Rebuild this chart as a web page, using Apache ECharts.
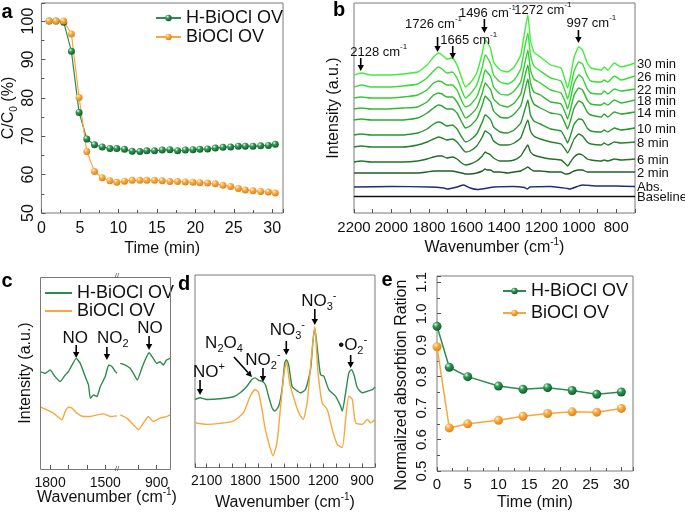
<!DOCTYPE html>
<html>
<head>
<meta charset="utf-8">
<script src="https://cdn.jsdelivr.net/npm/echarts@6.0.0/dist/echarts.min.js"></script>
<style>
html,body{margin:0;padding:0;background:#fff;}
#main{width:685px;height:512px;}
</style>
</head>
<body>
<div id="main"></div>
<script>
// ---- panel a : C/C0 vs time
var aTime = [1.0,1.9,2.9,3.9,4.9,5.9,6.9,7.9,8.9,9.8,10.8,11.8,12.8,13.7,14.7,15.7,16.7,17.7,18.7,19.7,20.6,21.6,22.6,23.6,24.6,25.6,26.5,27.5,28.5,29.5,30.4];
var aHBiOCl = [100,100,99.7,92.1,76.2,69.3,67.8,67.2,66.8,66.8,66.6,66.1,66.0,66.2,66.2,66.4,66.5,66.2,66.4,66.5,66.6,66.7,66.9,67.1,67.2,67.4,67.4,67.4,67.5,67.6,67.9];
var aBiOCl = [100,100,100,96.6,80.1,66.0,60.8,59.2,58.4,58.0,58.3,58.5,58.5,58.5,58.5,58.4,58.2,58.2,58.1,58.0,57.9,57.8,57.6,57.2,56.9,56.4,56.0,55.8,55.6,55.5,55.2];

// ---- panel b : in situ spectra (a.u.)
var bWave = [2200,2160,2110,2020,1940,1860,1810,1775,1750,1730,1705,1675,1650,1625,1605,1580,1545,1515,1500,1490,1470,1455,1420,1380,1345,1310,1290,1272,1258,1240,1205,1150,1095,1070,1060,1045,1025,1000,980,955,935,880,865,845,810,775,700];
var b30min = [138,140,138,138,139,141,148,156,160,158,154,155,148,135,126,130,140,160,173,171,164,151,143,141,146,158,180,198,173,161,156,148,145,131,125,136,156,166,163,150,145,143,146,143,150,146,150];
var b26min = [126,128,126,126,127,129,135,142,146,144,140,141,135,123,115,119,128,146,158,156,149,138,131,129,133,144,164,180,158,147,142,135,132,120,114,124,142,151,149,137,132,131,133,131,137,133,137];
var b22min = [115,116,115,115,116,118,123,130,132,131,128,128,123,112,106,108,116,132,143,141,136,126,119,118,122,131,148,163,143,134,130,123,120,110,104,114,130,138,135,124,120,119,122,119,124,122,124];
var b18min = [104,105,104,104,105,106,111,118,120,119,116,116,111,102,95,98,105,120,130,128,123,114,108,106,110,119,135,148,130,121,118,111,109,99,94,103,118,125,123,113,109,108,110,108,113,110,113];
var b14min = [93,94,93,93,93,95,100,105,108,107,104,104,100,91,85,87,94,108,117,115,111,102,96,95,99,107,121,134,117,109,105,100,98,88,84,92,105,112,110,101,98,96,99,96,101,99,101];
var b10min = [78,79,78,78,78,80,84,89,91,90,87,88,84,76,71,73,79,91,98,97,93,86,81,80,83,90,102,113,98,92,89,84,82,74,70,77,89,94,93,85,82,81,83,81,85,83,85];
var b8min = [66,67,66,66,66,68,71,74,76,75,73,74,71,65,61,62,67,76,82,81,78,72,68,68,70,75,85,93,82,77,74,71,69,63,60,65,74,79,77,71,69,68,70,68,71,70,71];
var b6min = [51,52,51,51,51,52,54,56,57,57,55,56,54,50,48,49,52,57,61,60,58,55,52,52,53,57,63,68,61,58,56,54,53,49,47,51,56,59,58,54,53,52,53,52,54,53,54];
var b2min = [40,40,40,40,40,40,41,42,42,42,42,42,41,40,39,39,40,42,44,43,43,41,41,40,41,42,44,46,44,42,42,41,41,39,39,40,42,43,43,41,41,41,41,41,41,41,41];
var bNames = ['30 min','26 min','22 min','18 min','14 min','10 min','8 min','6 min','2 min'];
var bAbsWave = [2200,2000,1800,1720,1700,1650,1615,1580,1540,1500,1450,1350,1290,1275,1260,1150,1060,1050,980,900,800,700];
var bAbs = [26,26.5,26,25,24,26,28,25,23.5,24.5,26,26.5,25.5,24,26,26.5,24.5,24,28,27,27,26.5];
var bBaseWave = [2200,700];
var bBase = [16.5,16.5];
var bPeakText = ['2128','1726','1665','1496','1272','997'];
var bPeakWave = [2164,1754,1673,1504,1272,1002];

// ---- panel c : broken wavenumber axis
var cHWaveL = [1855,1827,1800,1773,1745,1718,1700,1681,1658,1636,1609,1591,1581,1563,1545,1527,1500,1481,1463,1445,1436];
var cHL = [97.7,96,99.3,92.7,87.7,94.3,97.7,104.3,111,106,92.7,84.3,71,74.3,72.7,82.6,92.7,104.3,102.6,97.7,96];
var cHWaveR = [1100,1073,1046,1028,1006,982,964,942,919,900,882,864,846,827];
var cHR = [106,104.3,101,96,89.3,101,109.3,116.6,111,106,107.6,104.3,109.3,111];
var cOWaveL = [1855,1818,1782,1736,1718,1700,1681,1654,1618,1581,1545,1509,1472,1436];
var cOL = [62.6,59.3,56,49.3,57.6,62,61,56,52.6,52.6,54.3,55.3,52.6,53.3];
var cOWaveR = [1100,1064,1028,1000,973,946,919,882,846,827];
var cOR = [54.3,51,44.3,39.3,46,52.6,47.6,51,52.6,54.3];
var cPeakText = ['{t|NO}','{t|NO}{b|2}','{t|NO}'];
var cPeakWave = [1658,1491,942];

// ---- panel d
var dHWave = [2190,2151,2099,1996,1893,1841,1789,1751,1725,1699,1673,1647,1622,1595,1575,1544,1518,1497,1484,1467,1441,1415,1376,1337,1298,1278,1265,1247,1221,1195,1157,1105,1066,1053,1027,1002,983,963,936,898,859,820,800];
var dH = [68.3,70,68.3,69,71,75,81.6,88.3,90,87.6,86.6,83.3,71.6,60,56.6,61.6,78.3,105,108.3,103.3,81.6,78.3,75,78.3,98.3,128.3,140,121.6,93.3,91.6,78.3,71.6,61.6,56.6,75,95,98.3,93.3,80,75,76.6,78.3,81];
var dOWave = [2190,2099,1996,1893,1816,1764,1725,1699,1673,1647,1614,1588,1557,1531,1505,1484,1459,1428,1389,1355,1324,1293,1265,1242,1208,1169,1130,1092,1053,1027,1002,975,950,898,859,833,800];
var dO = [45,43.3,44.3,46.6,55,71.6,78.3,75,58.3,38.3,21.6,11.6,25,58.3,91.6,106.6,85,70,55,48.3,65,108.3,141.6,98.3,65,58.3,38.3,23.3,20,48.3,71.6,68.3,45,43.3,48.3,45,48.3];
var dPeakText = ['{t|NO}{s|+}','{t|N}{b|2}{t|O}{b|4}','{t|NO}{b|2}{s|-}','{t|NO}{b|3}{s|-}','{t|NO}{b|3}{s|-}','{t|\u2022O}{b|2}{s|-}'];
var dPeakWave = [2151,1750,1665,1485,1265,988];

// ---- panel e
var eTime = [0,2,5,10,14,18,22,26,30];
var eHBiOCl = [0.96,0.83,0.80,0.77,0.76,0.765,0.756,0.744,0.751];
var eBiOCl = [0.895,0.637,0.65,0.661,0.674,0.683,0.688,0.687,0.699];

var FONT = 'Liberation Sans, Arial, Helvetica, sans-serif';
var GREEN = '#2e8b50', ORANGE = '#f7a83c', FRAME = '#7a7a7a', TXT = '#111';
var bColors = ['#40ee3a','#3bdc38','#36ca36','#32b834','#2ea632','#2a9430','#27822d','#23702a','#215e27'];

function zip(xs, ys){
	var out = [];
	for (var i = 0; i < xs.length; i++) out.push([xs[i], ys[i]]);
	return out;
}
function ball(hi, mid, dark){
	return new echarts.graphic.RadialGradient(0.35, 0.3, 0.75, [
		{offset: 0, color: hi}, {offset: 0.35, color: mid}, {offset: 1, color: dark}]);
}
function rich(size){
	var small = Math.round(size * 0.65);
	return {
		t: {fontSize: size, fontFamily: FONT, color: TXT, fill: TXT, lineHeight: size + 5},
		s: {fontSize: small, fontFamily: FONT, color: TXT, fill: TXT, lineHeight: Math.round(size * 0.5), verticalAlign: 'top'},
		b: {fontSize: small, fontFamily: FONT, color: TXT, fill: TXT, lineHeight: Math.round(size * 0.75), verticalAlign: 'bottom'}
	};
}
var greenBall = ball('#e6fff0', '#2f9a55', '#125428');
var orangeBall = ball('#fff7e6', '#fbae45', '#d97f15');
var tick = {inside: true, length: 4, lineStyle: {color: '#555'}};
var minor = {show: true, splitNumber: 2, length: 3, lineStyle: {color: '#555'}};
function lab(size, extra){
	var o = {color: TXT, fontFamily: FONT, fontSize: size};
	for (var k in extra) o[k] = extra[k];
	return o;
}
function plain(v){ return String(v); }
function hy(idx, max, extra){
	var o = {type: 'value', gridIndex: idx, min: 0, max: max, axisLine: {show: false}, axisTick: {show: false}, axisLabel: {show: false}, splitLine: {show: false}};
	for (var k in extra) o[k] = extra[k];
	return o;
}

var series = [];
// a
series.push({name: 'H-BiOCl OV', type: 'line', xAxisIndex: 0, yAxisIndex: 0, data: zip(aTime, aHBiOCl),
	symbol: 'circle', symbolSize: 7, lineStyle: {color: GREEN, width: 1.2}, itemStyle: {color: greenBall, borderWidth: 0}});
series.push({name: 'BiOCl OV', type: 'line', xAxisIndex: 0, yAxisIndex: 0, data: zip(aTime, aBiOCl),
	symbol: 'circle', symbolSize: 7, lineStyle: {color: ORANGE, width: 1.2}, itemStyle: {color: orangeBall, borderWidth: 0}});
// b
var bData = [b30min, b26min, b22min, b18min, b14min, b10min, b8min, b6min, b2min];
for (var i = 0; i < bData.length; i++) {
	series.push({name: bNames[i], type: 'line', xAxisIndex: 1, yAxisIndex: 1, data: zip(bWave, bData[i]),
		symbol: 'none', smooth: 0.15, lineStyle: {color: bColors[i], width: 1.4}});
}
series.push({name: 'Abs.', type: 'line', xAxisIndex: 1, yAxisIndex: 1, data: zip(bAbsWave, bAbs),
	symbol: 'none', smooth: 0.2, lineStyle: {color: '#1f2c7c', width: 1.4}});
series.push({name: 'Baseline', type: 'line', xAxisIndex: 1, yAxisIndex: 1, data: zip(bBaseWave, bBase),
	symbol: 'none', lineStyle: {color: '#111', width: 1.4}});
// c
series.push({name: 'H-BiOCl OV ', type: 'line', xAxisIndex: 2, yAxisIndex: 2, data: zip(cHWaveL, cHL), symbol: 'none', smooth: 0.15, lineStyle: {color: GREEN, width: 1.4}, itemStyle: {color: GREEN}});
series.push({name: 'BiOCl OV ', type: 'line', xAxisIndex: 2, yAxisIndex: 2, data: zip(cOWaveL, cOL), symbol: 'none', smooth: 0.15, lineStyle: {color: ORANGE, width: 1.4}, itemStyle: {color: ORANGE}});
series.push({name: 'H-BiOCl OV ', type: 'line', xAxisIndex: 3, yAxisIndex: 3, data: zip(cHWaveR, cHR), symbol: 'none', smooth: 0.15, lineStyle: {color: GREEN, width: 1.4}, itemStyle: {color: GREEN}});
series.push({name: 'BiOCl OV ', type: 'line', xAxisIndex: 3, yAxisIndex: 3, data: zip(cOWaveR, cOR), symbol: 'none', smooth: 0.15, lineStyle: {color: ORANGE, width: 1.4}, itemStyle: {color: ORANGE}});
// d
series.push({name: 'dH', type: 'line', xAxisIndex: 4, yAxisIndex: 4, data: zip(dHWave, dH), symbol: 'none', smooth: 0.2, lineStyle: {color: GREEN, width: 1.4}});
series.push({name: 'dO', type: 'line', xAxisIndex: 4, yAxisIndex: 4, data: zip(dOWave, dO), symbol: 'none', smooth: 0.2, lineStyle: {color: ORANGE, width: 1.4}});
// e
series.push({name: 'H-BiOCl OV  ', type: 'line', xAxisIndex: 5, yAxisIndex: 5, data: zip(eTime, eHBiOCl),
	symbol: 'circle', symbolSize: 9, lineStyle: {color: GREEN, width: 1.5}, itemStyle: {color: greenBall, borderWidth: 0}});
series.push({name: 'BiOCl OV  ', type: 'line', xAxisIndex: 5, yAxisIndex: 5, data: zip(eTime, eBiOCl),
	symbol: 'circle', symbolSize: 9, lineStyle: {color: ORANGE, width: 1.5}, itemStyle: {color: orangeBall, borderWidth: 0}});

function legendAt(names, left, top, w, h, gap, lh, icon){
	var l = {data: names, left: left, top: top, orient: 'vertical', itemWidth: w, itemHeight: h, itemGap: gap,
		selectedMode: false, formatter: function(n){ return n.trim(); },
		textStyle: {fontSize: 18, fontFamily: FONT, color: TXT, lineHeight: lh}};
	if (icon) l.icon = icon;
	return l;
}

var option = {
	animation: false,
	backgroundColor: '#fff',
	textStyle: {fontFamily: FONT},
	legend: [
		legendAt(['H-BiOCl OV', 'BiOCl OV'], 150, 4, 25, 8, 1, 18),
		legendAt(['H-BiOCl OV ', 'BiOCl OV '], 40, 279, 27, 2, 0, 16.5, 'rect'),
		legendAt(['H-BiOCl OV  ', 'BiOCl OV  '], 497, 277, 23, 8, 4, 18)
	],
	grid: [
		{left: 41, top: 3, width: 242, height: 210, show: true, borderColor: FRAME, borderWidth: 1},
		{left: 354, top: 3, width: 281, height: 210, show: true, borderColor: FRAME, borderWidth: 1},
		{left: 40, top: 277, width: 77, height: 192},
		{left: 117, top: 277, width: 53, height: 192},
		{left: 195, top: 275, width: 180, height: 193, show: true, borderColor: FRAME, borderWidth: 1},
		{left: 437, top: 276, width: 196, height: 195, show: true, borderColor: FRAME, borderWidth: 1}
	],
	xAxis: [
		{type: 'value', gridIndex: 0, min: 0, max: 31.4, interval: 5, axisLine: {show: false}, axisTick: tick, minorTick: minor, splitLine: {show: false},
			axisLabel: lab(16, {margin: 8, showMaxLabel: false}),
			name: 'Time (min)', nameLocation: 'middle', nameGap: 28, nameTextStyle: lab(16)},
		{type: 'value', gridIndex: 1, min: 700, max: 2200, interval: 100, inverse: true, axisLine: {show: false}, axisTick: tick, splitLine: {show: false},
			axisLabel: lab(15, {margin: 7, formatter: function(v){ return v % 200 === 0 ? String(v) : ''; }}),
			name: '{t|Wavenumber (cm}{s|-1}{t|)}', nameLocation: 'middle', nameGap: 24, nameTextStyle: {rich: rich(16)}},
		{type: 'value', gridIndex: 2, min: 1436, max: 1855, inverse: true, axisLine: {show: false},
			axisTick: {inside: true, length: 4, lineStyle: {color: '#555'}, customValues: [1500, 1600, 1700, 1800]}, splitLine: {show: false},
			axisLabel: lab(14, {margin: 7, customValues: [1500, 1800], formatter: plain})},
		{type: 'value', gridIndex: 3, min: 827, max: 1118, inverse: true, axisLine: {show: false},
			axisTick: {inside: true, length: 4, lineStyle: {color: '#555'}, customValues: [900, 1000]}, splitLine: {show: false},
			axisLabel: lab(14, {margin: 7, customValues: [900], formatter: plain})},
		{type: 'value', gridIndex: 4, min: 800, max: 2190, interval: 100, inverse: true, axisLine: {show: false}, axisTick: tick, splitLine: {show: false},
			axisLabel: lab(14, {margin: 7, formatter: function(v){ return (v >= 900 && (v - 900) % 300 === 0) ? String(v) : ''; }}),
			name: '{t|Wavenumber (cm}{s|-1}{t|)}', nameLocation: 'middle', nameGap: 25, nameTextStyle: {rich: rich(16)}},
		{type: 'value', gridIndex: 5, min: 0, max: 31.9, interval: 5, axisLine: {show: false}, axisTick: tick, minorTick: minor, splitLine: {show: false},
			axisLabel: lab(15, {margin: 6, showMaxLabel: false}),
			name: 'Time (min)', nameLocation: 'middle', nameGap: 24, nameTextStyle: lab(16)}
	],
	yAxis: [
		{type: 'value', gridIndex: 0, min: 50, max: 104.7, interval: 10, axisLine: {show: false}, axisTick: tick, minorTick: minor, splitLine: {show: false},
			axisLabel: lab(16, {rotate: 90, margin: 5, showMaxLabel: false}),
			name: '{t|C/C}{b|0}{t| (%)}', nameLocation: 'middle', nameGap: 21, nameTextStyle: {rich: rich(16)}},
		hy(1, 210, {name: 'Intensity (a.u.)', nameLocation: 'middle', nameGap: 12, nameTextStyle: lab(16)}),
		hy(2, 192.6, {name: 'Intensity (a.u.)', nameLocation: 'middle', nameGap: 6, nameTextStyle: lab(16)}),
		hy(3, 192.6, {}),
		hy(4, 193.3, {}),
		{type: 'value', gridIndex: 5, min: 0.5, max: 1.12, interval: 0.1, axisLine: {show: false}, axisTick: tick, minorTick: minor, splitLine: {show: false},
			axisLabel: lab(15, {rotate: 90, margin: 8, showMaxLabel: false, formatter: function(v){ return v.toFixed(1); }})}
	],
	series: series
};

var chart = echarts.init(document.getElementById('main'));
chart.setOption(option);

// ---- text, arrows and frame pieces placed from the axes
function xpx(axisIndex, v){ return chart.convertToPixel({xAxisIndex: axisIndex}, v); }
function text(x, y, str, size, extra){
	var st = {text: str, rich: rich(size), fontSize: size, fontFamily: FONT, fill: TXT, align: 'center', verticalAlign: 'middle'};
	for (var k in extra) st[k] = extra[k];
	return {type: 'text', x: x, y: y, z: 100, style: st};
}
function arrow(x1, y1, x2, y2){
	var dx = x2 - x1, dy = y2 - y1, L = Math.sqrt(dx * dx + dy * dy), ux = dx / L, uy = dy / L;
	var hl = 6, hw = 3.2, bx = x2 - ux * hl, by = y2 - uy * hl;
	return [
		{type: 'line', z: 100, shape: {x1: x1, y1: y1, x2: bx, y2: by}, style: {stroke: '#000', lineWidth: 1.6}},
		{type: 'polygon', z: 100, shape: {points: [[x2, y2], [bx - uy * hw, by + ux * hw], [bx + uy * hw, by - ux * hw]]}, style: {fill: '#000'}}
	];
}
var g = [];
// panel letters
var letters = ['a', 'b', 'c', 'd', 'e'];
var letterPos = [[7, 12], [339, 10], [7, 281], [184, 284], [387, 280]];
for (var i = 0; i < letters.length; i++) {
	g.push(text(letterPos[i][0], letterPos[i][1], letters[i], 20, {fontWeight: 'bold', fill: '#000'}));
}
// c frame + break marks + axis title
g.push({type: 'rect', z: 90, shape: {x: 40.5, y: 277.5, width: 130, height: 192}, style: {fill: 'none', stroke: FRAME, lineWidth: 1}});
g.push(text(117, 276, '//', 8, {fill: '#444'}));
g.push(text(117, 469, '//', 8, {fill: '#444'}));
g.push(text(107, 498, '{t|Wavenumber (cm}{s|-1}{t|)}', 16));
// e y title, a little above the axis middle as in the figure
var eTitle = text(402, 385, 'Normalized absorbtion Ration', 16);
eTitle.rotation = Math.PI / 2;
g.push(eTitle);

// b right-hand labels at each curve end
var bEnds = bData.concat([bAbs, bBase]);
var bEndNames = bNames.concat(['Abs.', 'Baseline']);
for (var i = 0; i < bEnds.length; i++) {
	var p = chart.convertToPixel({gridIndex: 1}, [700, bEnds[i][bEnds[i].length - 1]]);
	g.push(text(p[0] + 2, p[1] + 1, bEndNames[i], 13, {align: 'left'}));
}
// b peak marks: [text dx, text y, arrow top, arrow bottom]
var bLay = [[18, 52, 58, 71], [-4, 24, 37, 52], [16, 40, 46, 59], [3, 13, 19, 33], [15, 10, 0, 0], [13, 23, 30, 43]];
for (var i = 0; i < bPeakText.length; i++) {
	var x = xpx(1, bPeakWave[i]);
	g.push(text(x + bLay[i][0], bLay[i][1], '{t|' + bPeakText[i] + ' cm}{s|-1}', 13));
	if (bLay[i][3]) g = g.concat(arrow(x, bLay[i][2], x, bLay[i][3]));
}
// c peak marks
var cAxis = [2, 2, 3];
var cLay = [[-1, 338, 345, 358], [6, 338, 347, 360], [1, 328, 336, 350]];
for (var i = 0; i < cPeakText.length; i++) {
	var x = xpx(cAxis[i], cPeakWave[i]);
	g.push(text(x + cLay[i][0], cLay[i][1], cPeakText[i], 17));
	g = g.concat(arrow(x, cLay[i][2], x, cLay[i][3]));
}
// d peak marks
var dLay = [[9, 372, 380, 395], [-28, 343, 357, 377], [0, 360, 368, 382], [1, 330, 341, 355], [4, 301, 309, 325], [2, 345, 355, 368]];
for (var i = 0; i < dPeakText.length; i++) {
	var x = xpx(4, dPeakWave[i]);
	g.push(text(x + dLay[i][0], dLay[i][1], dPeakText[i], 17));
	if (i === 1) g = g.concat(arrow(x - 18, dLay[i][2], x, dLay[i][3]));
	else g = g.concat(arrow(x, dLay[i][2], x, dLay[i][3]));
}
chart.setOption({graphic: g});
</script>
</body>
</html>
